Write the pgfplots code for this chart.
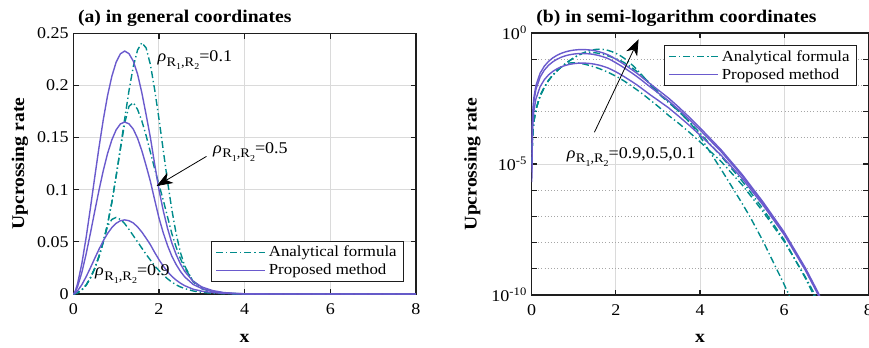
\documentclass[border=0pt]{standalone}
\usepackage{fontspec}
\setmainfont{Liberation Serif}[FakeStretch=1.1]
\usepackage{pgfplots}
\pgfplotsset{compat=1.18}
\usepackage{pgfplotstable}
\usetikzlibrary{arrows.meta}
\definecolor{ana}{RGB}{0,139,139}
\definecolor{pro}{RGB}{106,90,205}
\definecolor{gridc}{RGB}{218,218,218}
\definecolor{axc}{RGB}{30,30,30}

\newcommand{\rhoR}{{\itshape ρ}\kern0.3pt\raisebox{-0.6ex}{\fontsize{9.8}{9.8}\selectfont R\raisebox{-0.55ex}{\fontsize{6.8}{6.8}\selectfont 1},R\raisebox{-0.55ex}{\fontsize{6.8}{6.8}\selectfont 2}}}

% ---------------- data ----------------
\pgfplotstableread{
x y
0.001 1.0e-5
0.02 1.0e-4
0.05 4.0e-4
0.1 1.2e-3
0.2 4.0e-3
0.3 0.0085
0.4 0.0155
0.5 0.0245
0.6 0.036
0.7 0.050
0.8 0.067
0.9 0.088
1.0 0.113
1.1 0.140
1.2 0.168
1.3 0.195
1.4 0.218
1.5 0.234
1.6 0.241
1.7 0.236
1.8 0.220
1.9 0.196
2.0 0.168
2.1 0.138
2.2 0.108
2.3 0.081
2.4 0.058
2.5 0.040
2.6 0.027
2.8 0.0115
3.0 0.0050
3.25 0.00224
3.5 0.0010
3.75 3.98e-4
3.85 2.5e-4
4.0 1.12e-4
4.5 6.3e-6
5.0 3.16e-7
5.2 8.9e-8
5.5 1.12e-8
6.0 2.5e-10
6.1 1.12e-10
6.2 5.0e-11
6.5 4.0e-12
7.0 2.0e-14
8.0 1.0e-18
}\Aone

\pgfplotstableread{
x y
0.001 1.0e-5
0.02 1.0e-4
0.05 4.0e-4
0.1 1.2e-3
0.2 4.0e-3
0.3 0.0085
0.4 0.0155
0.5 0.0245
0.6 0.036
0.7 0.050
0.8 0.067
0.9 0.088
1.0 0.113
1.1 0.139
1.2 0.164
1.3 0.180
1.4 0.1835
1.5 0.177
1.6 0.166
1.7 0.152
1.8 0.136
1.9 0.120
2.0 0.105
2.1 0.090
2.2 0.074
2.3 0.058
2.4 0.045
2.5 0.034
2.6 0.025
2.8 0.0125
3.0 0.0058
3.25 0.0024
3.5 0.0010
3.75 4.0e-4
4.0 1.5e-4
4.5 2.0e-5
5.0 2.24e-6
5.5 1.9e-7
6.0 1.26e-8
6.5 4.5e-10
6.7 1.0e-10
7.0 1.0e-11
7.5 1.0e-13
8.0 5.0e-16
}\Afive

\pgfplotstableread{
x y
0.001 1.0e-5
0.02 1.0e-4
0.05 4.0e-4
0.1 1.2e-3
0.2 4.0e-3
0.3 0.0085
0.4 0.0155
0.5 0.0245
0.6 0.036
0.7 0.050
0.8 0.065
0.9 0.0715
1.0 0.0735
1.1 0.0715
1.2 0.0675
1.3 0.062
1.4 0.056
1.5 0.050
1.6 0.044
1.7 0.038
1.8 0.0325
1.9 0.027
2.0 0.0225
2.1 0.0183
2.2 0.0146
2.3 0.0114
2.4 0.0088
2.5 0.0068
2.6 0.0052
2.8 0.0029
3.0 0.0016
3.25 7.2e-4
3.5 3.5e-4
3.75 1.6e-4
4.0 7.0e-5
4.5 1.26e-5
5.0 1.6e-6
5.5 1.5e-7
6.0 1.1e-8
6.5 5.0e-10
6.7 1.25e-10
7.0 1.3e-11
7.5 1.0e-13
8.0 5.0e-16
}\Anine

\pgfplotstableread{
x y
0.001 6.7e-6
0.02 7.8e-4
0.05 3.32e-3
0.1 9.93e-3
0.2 0.0293
0.3 0.0543
0.4 0.0825
0.5 0.1119
0.6 0.1406
0.7 0.1672
0.8 0.1903
0.9 0.2088
1.0 0.2223
1.1 0.2304
1.2 0.2330
1.3 0.2305
1.4 0.2234
1.5 0.2110
1.6 0.1930
1.7 0.1720
1.8 0.1500
1.9 0.1245
2.0 0.1000
2.1 0.0800
2.2 0.0630
2.3 0.0490
2.4 0.0380
2.5 0.0290
2.6 0.0218
2.8 0.0120
3.0 0.0068
3.25 0.0033
3.5 0.00145
3.75 6.0e-4
4.0 2.4e-4
4.5 3.5e-5
5.0 4.0e-6
5.5 3.5e-7
6.0 2.5e-8
6.5 1.1e-9
6.8 1.3e-10
7.0 2.5e-11
7.5 3.0e-13
8.0 2.0e-15
}\Pone

\pgfplotstableread{
x y
0.001 4.74e-6
0.02 5.52e-4
0.05 2.35e-3
0.1 7.03e-3
0.2 0.02074
0.3 0.03844
0.4 0.05841
0.5 0.07923
0.6 0.09954
0.7 0.11838
0.8 0.13473
0.9 0.14783
1.0 0.15739
1.1 0.16312
1.2 0.16496
1.3 0.16319
1.4 0.15817
1.5 0.14939
1.6 0.13742
1.7 0.12315
1.8 0.10800
1.9 0.09026
2.0 0.07300
2.1 0.05870
2.2 0.04650
2.3 0.03636
2.4 0.02835
2.5 0.02175
2.6 0.01644
2.8 0.00914
3.0 0.005236
3.25 0.00259
3.5 0.00116
3.75 4.89e-4
4.0 1.99e-4
4.5 2.98e-5
5.0 3.48e-6
5.5 3.10e-7
6.0 2.25e-8
6.5 9.9e-10
6.8 1.17e-10
7.0 2.25e-11
7.5 2.7e-13
8.0 1.8e-15
}\Pfive

\pgfplotstableread{
x y
0.001 2.04e-6
0.02 2.38e-4
0.05 1.01e-3
0.1 3.03e-3
0.2 8.94e-3
0.3 0.01656
0.4 0.02516
0.5 0.03413
0.6 0.04288
0.7 0.05100
0.8 0.05804
0.9 0.06368
1.0 0.06780
1.1 0.07027
1.2 0.07107
1.3 0.07030
1.4 0.06814
1.5 0.06436
1.6 0.05944
1.7 0.05349
1.8 0.04725
1.9 0.03984
2.0 0.03300
2.1 0.02680
2.2 0.02142
2.3 0.01695
2.4 0.01338
2.5 0.01044
2.6 0.00798
2.8 0.00456
3.0 0.00272
3.25 0.001403
3.5 6.53e-4
3.75 2.94e-4
4.0 1.27e-4
4.5 2.17e-5
5.0 2.8e-6
5.5 2.66e-7
6.0 2.0e-8
6.5 9.0e-10
6.8 1.07e-10
7.0 2.05e-11
7.5 2.5e-13
8.0 1.6e-15
}\Pnine

\pgfplotsset{
  mystyle/.style={
    scale only axis,
    font=\fontsize{12.3}{14}\selectfont,
    axis line style={axc, line width=0.9pt},
    tick style={axc, line width=0.9pt},
    tick align=inside,
    major tick length=4pt, minor tick length=4pt,
    xmajorgrids, ymajorgrids,
    major grid style={gridc, line width=0.75pt},
    xmin=0, xmax=8, xtick={0,2,4,6,8}, xticklabels={0,2,4,6,8},
    xticklabel style={yshift=-4pt},
    xlabel={x}, ylabel={Upcrossing rate},
    every axis title/.style={at={(0,1)}, anchor=base west, yshift=8pt, font=\fontsize{13.4}{15}\selectfont\bfseries},
    legend cell align=left,
    legend style={draw=axc, line width=0.9pt, font=\fontsize{11.5}{13}\selectfont, inner xsep=3pt, inner ysep=1.5pt},
    legend image code/.code={\draw[#1] (0pt,0pt) -- (37pt,0pt);},
    every axis plot/.append style={line width=1.05pt},
    ana/.style={color=ana, dash pattern=on 5.2pt off 2.2pt on 1pt off 2.2pt},
    pro/.style={color=pro, solid},
  }
}

\begin{document}
\begin{tikzpicture}
% ---------- (a) ----------
\begin{axis}[mystyle, at={(54.975pt,39.75pt)}, anchor=south west, width=257pt, height=195.5pt,
  ymin=0, ymax=0.25, ytick={0,0.05,0.1,0.15,0.2,0.25}, yticklabels={0,0.05,0.1,0.15,0.2,0.25},
  title={(a) in general coordinates},
  every axis x label/.style={at={(axis description cs:0.5,-0.169)}, anchor=center, font=\fontsize{13.4}{15}\selectfont\bfseries},
  every axis y label/.style={at={(axis description cs:-0.1555,0.5)}, anchor=center, rotate=90, font=\fontsize{13.4}{15}\selectfont\bfseries},
  legend style={at={(0.965,0.046)}, anchor=south east},
]
\addplot[ana] table[x=x,y=y] {\Aone}; \addlegendentry{Analytical formula}
\addplot[ana, forget plot] table[x=x,y=y] {\Afive};
\addplot[ana, forget plot] table[x=x,y=y] {\Anine};
\addplot[pro] table[x=x,y=y] {\Pone}; \addlegendentry{Proposed method}
\addplot[pro, forget plot] table[x=x,y=y] {\Pfive};
\addplot[pro, forget plot] table[x=x,y=y] {\Pnine};
\node[anchor=base west, inner sep=0pt] at (axis cs:1.96,0.2228) {\rhoR=0.1};
\node[anchor=base west, inner sep=0pt] at (axis cs:3.26,0.135) {\rhoR=0.5};
\node[anchor=base west, inner sep=0pt] at (axis cs:0.506,0.0173) {\rhoR=0.9};
\draw[black, line width=0.6pt, -{Stealth[length=12pt,width=9pt,inset=3.5pt]}] (axis cs:3.11,0.132) -- (axis cs:1.945,0.1036);
\end{axis}
% ---------- (b) ----------
\begin{axis}[mystyle, at={(398.775pt,39pt)}, anchor=south west, width=252.5pt, height=196.5pt,
  ymode=log, ymin=1e-10, ymax=1,
  ytick={1e-10,1e-5,1}, yticklabels={10\textsuperscript{-10},10\textsuperscript{-5},10\textsuperscript{0}},
  minor ytick={1e-9,1e-8,1e-7,1e-6,1e-4,1e-3,1e-2,1e-1},
  yminorgrids, minor grid style={black!35, dotted, line width=0.75pt},
  title={(b) in semi-logarithm coordinates},
  every axis x label/.style={at={(axis description cs:0.5,-0.164)}, anchor=center, font=\fontsize{13.4}{15}\selectfont\bfseries},
  every axis y label/.style={at={(axis description cs:-0.176,0.5)}, anchor=center, rotate=90, font=\fontsize{13.4}{15}\selectfont\bfseries},
  legend style={at={(0.966,0.954)}, anchor=north east},
]
\addplot[ana] table[x=x,y=y] {\Aone}; \addlegendentry{Analytical formula}
\addplot[ana, forget plot] table[x=x,y=y] {\Afive};
\addplot[ana, forget plot] table[x=x,y=y] {\Anine};
\addplot[pro] table[x=x,y=y] {\Pone}; \addlegendentry{Proposed method}
\addplot[pro, forget plot] table[x=x,y=y] {\Pfive};
\addplot[pro, forget plot] table[x=x,y=y] {\Pnine};
\node[anchor=base west, inner sep=0pt] at (axis cs:0.83,1.66e-5) {\rhoR=0.9,0.5,0.1};
\draw[black, line width=0.6pt, -{Stealth[length=12pt,width=9pt,inset=3.5pt]}] (axis cs:1.49,1.62e-4) -- (axis cs:2.54,0.575);
\end{axis}
\pgfresetboundingbox
\path[use as bounding box] (0pt,0pt) rectangle (651.75pt,260.25pt);
\end{tikzpicture}
\end{document}
